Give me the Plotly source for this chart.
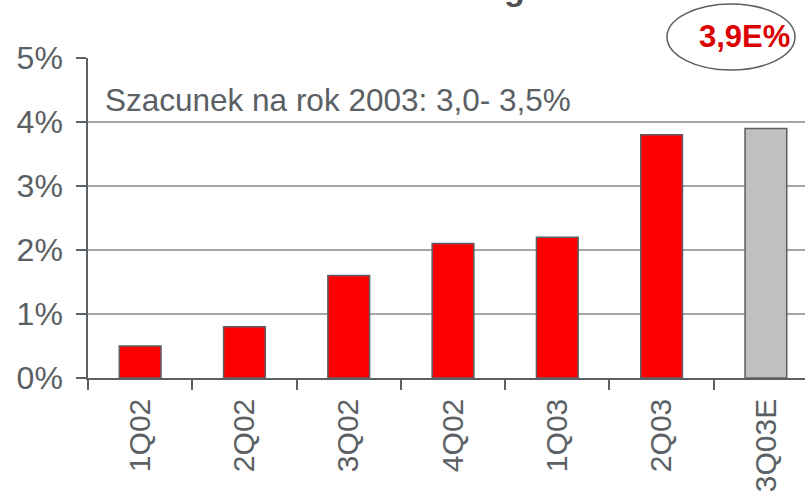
import plotly.graph_objects as go

quarters = ['1Q02', '2Q02', '3Q02', '4Q02', '1Q03', '2Q03', '3Q03E']
values = [0.5, 0.8, 1.6, 2.1, 2.2, 3.8, 3.9]
bar_colors = ['#ff0000'] * 6 + ['#c0c0c0']
y_ticks = [0, 1, 2, 3, 4, 5]
y_labels = ['0%', '1%', '2%', '3%', '4%', '5%']

grey = '#5a6064'
font = 'Liberation Sans, Arial, sans-serif'

fig = go.Figure()
fig.add_trace(go.Bar(
    x=quarters, y=values, width=0.4,
    marker=dict(color=bar_colors, line=dict(color=grey, width=1.5)),
    showlegend=False,
))

fig.update_layout(
    width=805, height=496,
    margin=dict(l=88, r=0, t=58, b=118),
    plot_bgcolor='white', paper_bgcolor='white',
    font=dict(family=font, size=30, color=grey),
)
fig.update_xaxes(
    type='category', range=[-0.5, 6.375], automargin=False,
    tickson='boundaries', ticks='outside', ticklen=10, tickcolor=grey, tickwidth=1.5,
    tickangle=-90, showgrid=False, tickfont=dict(size=30), ticklabelstandoff=7,
    showline=True, linecolor=grey, linewidth=1.5,
)
fig.update_yaxes(
    range=[0, 5], tickvals=y_ticks, ticktext=y_labels, automargin=False,
    ticks='outside', ticklen=10, tickcolor=grey, tickwidth=1.5,
    tickfont=dict(size=32), ticklabelstandoff=7,
    showgrid=True, gridcolor='#a6a6a6', gridwidth=1.5,
    showline=True, linecolor=grey, linewidth=1.5, zeroline=False,
)

# note inside plot
fig.add_annotation(
    text='Szacunek na rok 2003: 3,0- 3,5%', xref='paper', yref='paper',
    x=(103 - 88) / 717, y=(378 - 100) / 320, xanchor='left', yanchor='middle', showarrow=False,
    font=dict(size=31.5, color=grey),
)

# circled estimate
fig.add_shape(type='circle', xref='paper', yref='paper',
              x0=(667 - 88) / 717, x1=(795 - 88) / 717,
              y0=(378 - 70) / 320, y1=(378 - 4) / 320,
              line=dict(color=grey, width=1.5))
fig.add_annotation(
    text='<b>3,9E%</b>', xref='paper', yref='paper',
    x=(744 - 88) / 717, y=(378 - 37) / 320, xanchor='center', yanchor='middle',
    showarrow=False, font=dict(size=31, color='#dd0000'),
)

# cut-off title fragment at the top edge
fig.add_annotation(
    text='<b>g</b>', xref='paper', yref='paper',
    x=(514 - 88) / 717, y=(378 + 12) / 320, xanchor='center', yanchor='middle',
    showarrow=False, font=dict(size=34, color='#505050'),
)

# page has default 8px body margin; drop it so the figure sits at 0,0
fig.write_html('out.html', config={'displayModeBar': False},
               post_script="document.body.style.margin='0';")
